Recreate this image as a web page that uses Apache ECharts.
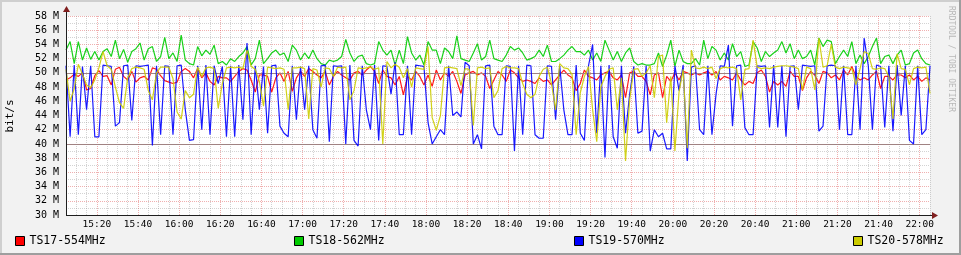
<!DOCTYPE html>
<html><head><meta charset="utf-8">
<script src="https://cdn.jsdelivr.net/npm/echarts@6/dist/echarts.min.js"></script>
<style>html,body{margin:0;padding:0;background:#f2f2f2}#c{width:961px;height:255px}</style>
</head><body><div id="c"></div>
<script>
// time axis: minutes since midnight, one sample every 2 minutes from 15:05
const startMinute = 905;
const endMinute = 1325;
const stepMinutes = 2;
const seriesNames = ['TS17-554MHz','TS18-562MHz','TS19-570MHz','TS20-578MHz'];
const seriesColors = ['#ff0000','#00cc00','#0000ff','#cccc00'];
const hrules = [40, 50];

const ts17 = [
49.0,49.3,49.8,49.5,50.0,47.6,47.8,49.6,50.3,49.5,
49.6,48.3,50.5,50.8,49.5,49.0,50.2,48.7,49.3,49.5,
49.0,50.7,50.5,49.6,48.9,48.7,48.5,48.7,50.2,50.6,
50.2,49.3,50.6,49.3,50.0,48.8,48.3,49.5,49.3,49.3,
48.8,49.5,50.2,50.6,50.4,49.0,47.3,49.7,49.7,49.5,
47.3,49.3,50.0,48.8,50.2,47.4,49.3,50.2,49.5,50.6,
50.2,49.7,49.3,50.2,48.3,49.5,50.2,49.7,49.3,49.0,
50.0,50.2,49.7,50.4,50.9,50.2,48.5,50.4,49.5,49.3,
48.3,49.5,46.9,49.5,49.0,50.2,49.5,48.3,49.7,48.1,
50.4,49.0,50.0,49.5,50.2,48.8,47.1,49.7,50.0,50.2,
49.7,50.0,49.5,47.8,49.0,50.2,49.7,48.8,50.4,50.0,
49.3,48.8,49.0,48.8,48.5,49.3,48.8,49.0,48.3,49.0,
49.7,50.4,49.7,49.3,47.5,48.5,50.4,49.5,49.3,49.0,
49.7,50.0,50.2,49.3,49.0,49.7,46.5,50.0,50.2,49.5,
49.5,48.8,46.9,49.7,50.0,46.5,49.5,48.8,50.0,49.0,
50.2,50.0,49.7,50.0,49.7,50.0,50.2,49.7,50.2,49.0,
49.5,49.3,49.0,50.0,49.0,48.3,48.8,48.5,50.0,50.4,
49.5,47.3,48.8,48.3,48.8,48.1,50.2,49.5,49.5,47.5,
49.3,50.2,49.7,48.5,50.2,50.0,49.3,49.7,49.0,50.4,
49.7,50.9,49.5,49.0,49.3,49.0,49.7,50.2,47.8,49.5,
49.5,49.0,49.7,49.7,49.3,49.7,49.0,49.5,48.8,49.3,
49.0];

const ts18 = [
53.2,54.4,51.3,54.4,51.8,53.5,51.9,53.0,51.8,53.0,
53.4,52.3,54.6,52.0,53.3,51.5,53.0,53.4,54.2,51.8,
53.4,53.7,51.6,52.3,55.0,52.0,52.8,51.6,55.3,51.8,
51.3,51.1,53.7,52.4,53.2,52.6,53.9,51.3,51.6,51.1,
52.0,51.6,52.3,52.8,53.7,51.1,52.0,54.6,51.3,52.0,
52.8,53.2,52.5,52.8,51.6,53.9,53.2,51.8,52.8,52.0,
53.2,52.0,51.3,51.1,51.8,51.6,51.8,52.3,54.7,52.8,
51.6,52.3,52.5,51.3,51.1,51.3,54.4,53.2,52.5,53.2,
51.1,53.2,51.3,55.1,52.8,51.8,52.5,51.1,54.4,53.2,
53.2,51.3,53.5,53.0,52.0,55.2,52.0,51.8,51.6,52.8,
54.1,51.8,52.3,54.6,52.0,51.8,51.6,52.5,53.7,53.2,
53.5,52.8,51.8,52.0,52.3,53.2,52.3,53.9,51.6,51.6,
52.0,52.5,53.2,53.7,53.0,53.0,52.5,53.2,51.8,52.8,
51.6,54.6,53.2,51.8,53.0,51.6,52.8,53.5,51.6,51.1,
51.3,51.1,51.1,51.3,52.8,50.9,52.5,54.6,50.9,53.2,
51.6,51.3,51.3,52.0,51.1,54.6,52.0,53.7,53.2,51.8,
52.8,51.8,54.1,52.3,53.0,50.9,51.1,54.4,53.5,51.6,
53.0,52.3,52.8,53.2,54.4,52.8,54.1,52.0,53.2,52.0,
52.3,53.2,51.1,54.9,53.7,54.6,54.4,51.3,52.3,53.2,
52.3,54.4,51.3,52.5,51.3,52.3,53.7,54.9,51.3,52.3,
52.5,51.3,52.5,53.2,51.1,51.3,52.8,53.2,52.0,51.3,
51.1];

const ts19 = [
51.0,41.0,51.1,41.3,50.9,44.8,51.0,41.0,41.0,51.1,
51.0,50.9,42.5,43.0,51.0,51.1,43.3,51.0,50.9,51.0,
51.1,39.8,51.0,41.3,51.0,50.9,41.3,51.0,51.1,44.8,
40.5,40.6,51.0,42.0,51.1,41.3,51.0,48.5,50.9,41.0,
51.0,41.0,51.1,43.4,54.2,41.3,51.0,44.8,50.9,41.5,
51.0,51.1,42.5,41.5,41.0,51.0,43.4,50.9,44.8,51.0,
42.0,40.8,51.0,51.1,40.3,51.0,50.9,51.0,40.0,51.1,
40.5,39.7,51.0,44.8,42.0,51.1,40.5,51.0,50.9,47.0,
51.5,41.3,41.3,51.0,41.3,51.1,51.0,50.9,43.0,40.0,
41.0,42.0,41.3,51.0,44.0,44.5,43.8,51.5,51.0,40.0,
41.3,39.3,51.0,51.1,42.5,41.3,41.3,51.0,50.9,39.0,
51.0,41.3,51.1,51.0,41.3,40.8,40.8,51.0,50.9,43.4,
51.0,44.8,41.3,41.3,51.1,41.5,40.5,51.0,54.0,41.5,
51.0,38.1,51.1,41.0,39.4,51.0,41.5,47.0,50.9,41.5,
41.8,51.0,39.0,42.0,41.0,41.5,39.3,39.3,51.0,47.5,
51.1,37.6,50.8,51.0,42.0,41.3,51.0,41.3,47.0,51.0,
50.9,53.9,42.5,51.0,51.1,42.3,41.3,41.3,51.0,50.9,
51.0,42.3,51.1,42.3,51.0,41.0,50.9,51.0,44.8,51.1,
51.0,50.9,51.0,41.8,42.5,51.0,51.1,51.0,42.0,51.0,
41.3,41.3,51.0,42.0,54.9,51.0,42.0,51.1,50.9,42.3,
51.0,41.8,51.1,44.0,51.0,40.5,40.0,51.0,41.3,42.0,
51.0];

const ts20 = [
50.5,46.0,47.8,51.2,49.8,48.3,47.9,49.0,50.7,53.0,
51.0,50.5,48.0,45.8,45.0,49.3,50.6,50.8,50.7,50.5,
47.5,46.2,50.0,50.8,50.8,50.8,49.2,44.5,43.5,47.5,
46.5,47.0,50.8,49.5,50.7,50.8,50.6,45.0,48.5,50.7,
50.8,50.7,50.8,50.6,53.2,50.9,50.5,48.8,45.3,50.8,
50.7,50.6,50.7,50.5,44.8,50.7,50.7,50.8,50.6,43.5,
50.6,50.4,48.0,50.7,50.6,49.5,50.8,50.7,50.8,46.2,
47.5,50.7,50.6,50.7,50.8,50.5,50.7,40.0,51.6,50.7,
51.2,50.8,49.3,50.6,48.0,50.7,50.6,50.5,53.7,43.7,
41.9,44.0,50.7,50.8,50.7,50.6,48.2,50.6,50.5,42.6,
50.7,50.8,50.6,50.7,46.5,47.5,50.6,50.9,50.7,50.7,
50.6,48.5,47.0,46.5,47.0,49.5,50.5,50.8,48.5,44.8,
51.3,50.7,50.6,49.8,41.3,47.2,49.5,50.9,44.8,40.3,
48.0,49.5,50.5,50.7,44.8,49.3,37.6,46.2,50.5,50.6,
49.5,50.0,51.0,46.5,52.3,52.5,43.0,49.5,39.0,47.3,
50.5,39.4,53.2,50.7,50.6,50.8,50.6,50.8,49.2,50.6,
50.8,50.7,50.8,50.6,46.2,50.5,50.6,54.6,50.8,50.6,
50.7,50.6,50.8,50.9,51.0,51.0,50.9,50.8,50.6,47.6,
50.8,50.6,47.6,54.9,50.8,51.0,54.0,50.8,50.6,50.8,
50.7,50.6,48.3,50.6,53.0,52.7,50.6,50.5,50.7,50.6,
49.5,43.5,52.7,50.6,50.5,48.3,50.6,50.8,50.7,50.8,
47.1];

const allSeries = [ts17, ts18, ts19, ts20];

const MONO = '"DejaVu Sans Mono", monospace';
const minorGrid = 'rgba(150,150,150,0.42)';
const majorGrid = 'rgba(222,80,80,0.45)';
const axisCol = '#1f1f1f';
const arrowCol = '#801f1f';

function hhmm(m) {
  const h = Math.floor(m / 60), mm = m % 60;
  return h + ':' + (mm < 10 ? '0' : '') + mm;
}

const chart = echarts.init(document.getElementById('c'), null, {renderer: 'canvas'});

const series = seriesNames.map((name, k) => ({
  name: name,
  type: 'line',
  showSymbol: false,
  symbol: 'none',
  animation: false,
  color: seriesColors[k],
  lineStyle: {width: 1.2, color: seriesColors[k], opacity: 0.9},
  itemStyle: {color: seriesColors[k]},
  z: 3 + k,
  data: allSeries[k].map((v, i) => [startMinute + i * stepMinutes, v])
}));
series.unshift({
  name: 'hrule',
  type: 'line',
  data: [],
  z: 2,
  silent: true,
  markLine: {
    silent: true,
    symbol: 'none',
    animation: false,
    label: {show: false},
    lineStyle: {color: '#a08282', width: 1, type: 'solid'},
    data: hrules.map(v => ({yAxis: v}))
  }
});

const legendCommon = {
  icon: 'rect', itemWidth: 9, itemHeight: 9, padding: 0, top: 235,
  selectedMode: false,
  itemStyle: {borderColor: '#000', borderWidth: 1},
  textStyle: {fontFamily: MONO, fontSize: 11.5, color: '#000'}
};
const legendLefts = [15, 294, 574, 853];

chart.setOption({
  animation: false,
  backgroundColor: '#f2f2f2',
  grid: {left: 66, right: 31, top: 16, bottom: 40, show: true, backgroundColor: '#ffffff', borderWidth: 0},
  legend: seriesNames.map((n, k) => Object.assign({}, legendCommon, {data: [n], left: legendLefts[k]})),
  xAxis: {
    type: 'value', min: startMinute, max: endMinute, interval: 5,
    axisLine: {show: false}, axisTick: {show: false},
    axisLabel: {
      fontFamily: MONO, fontSize: 9.5, color: '#000', margin: 5,
      formatter: v => (v % 20 === 0 ? hhmm(v) : '')
    },
    splitLine: {show: true, lineStyle: {color: [minorGrid, minorGrid, minorGrid, majorGrid], width: 1, type: [1, 1]}}
  },
  yAxis: {
    type: 'value', min: 30, max: 58, interval: 1,
    axisLine: {show: false}, axisTick: {show: false},
    axisLabel: {
      fontFamily: MONO, fontSize: 10, color: '#000', margin: 7,
      formatter: v => (v % 2 === 0 ? v + ' M' : '')
    },
    splitLine: {show: true, lineStyle: {color: [majorGrid, minorGrid], width: 1, type: [1, 1]}}
  },
  series: series,
  graphic: [
    {type: 'rect', shape: {x: 0, y: 0, width: 961, height: 2}, style: {fill: '#cfcfcf'}, silent: true},
    {type: 'rect', shape: {x: 0, y: 0, width: 2, height: 255}, style: {fill: '#cfcfcf'}, silent: true},
    {type: 'rect', shape: {x: 0, y: 253, width: 961, height: 2}, style: {fill: '#9e9e9e'}, silent: true},
    {type: 'rect', shape: {x: 959, y: 0, width: 2, height: 255}, style: {fill: '#9e9e9e'}, silent: true},
    {type: 'line', shape: {x1: 66.5, y1: 215, x2: 66.5, y2: 10}, style: {stroke: axisCol, lineWidth: 1}, z: 50, silent: true},
    {type: 'line', shape: {x1: 66, y1: 215.5, x2: 933, y2: 215.5}, style: {stroke: axisCol, lineWidth: 1}, z: 50, silent: true},
    {type: 'polygon', shape: {points: [[63, 12], [70, 12], [66.5, 6]]}, style: {fill: arrowCol}, z: 51, silent: true},
    {type: 'polygon', shape: {points: [[932, 212], [932, 219], [938, 215.5]]}, style: {fill: arrowCol}, z: 51, silent: true},
    {type: 'text', x: 10, y: 116, rotation: Math.PI / 2,
      style: {text: 'bit/s', font: '11px ' + MONO, fill: '#000', align: 'center', verticalAlign: 'middle'}, silent: true},
    {type: 'text', x: 951, y: 6, rotation: -Math.PI / 2,
      style: {text: 'RRDTOOL / TOBI OETIKER', font: '8px ' + MONO, fill: '#b8b8b8', align: 'left', verticalAlign: 'middle'}, silent: true}
  ]
});
</script>
</body></html>
